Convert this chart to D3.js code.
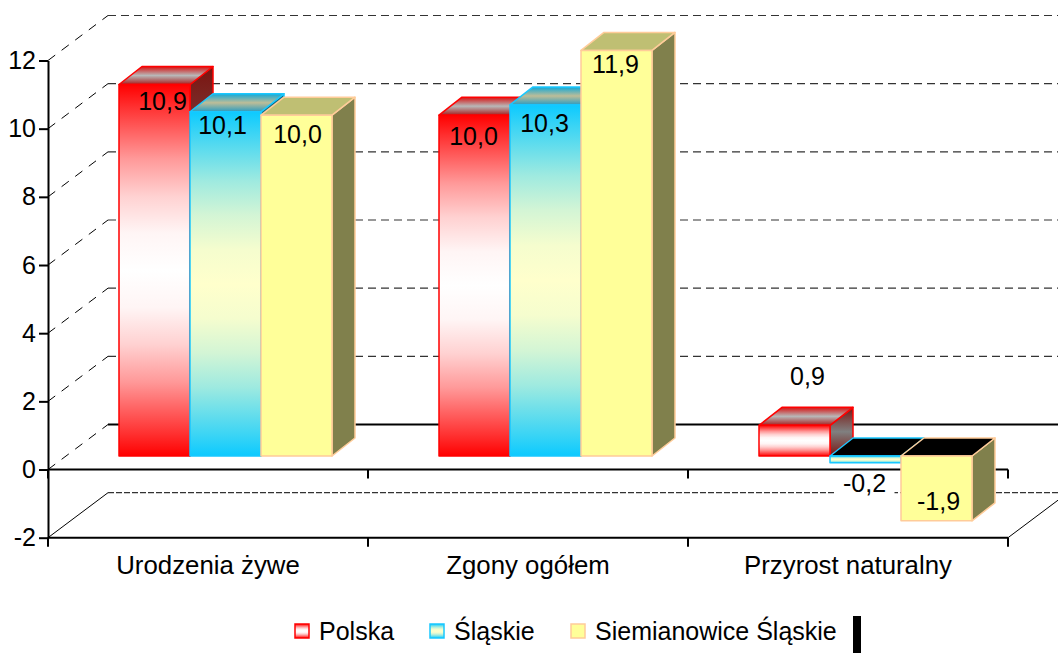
<!DOCTYPE html>
<html>
<head>
<meta charset="utf-8">
<script src="https://cdn.jsdelivr.net/npm/d3@7"></script>
<style>
  html, body { margin: 0; padding: 0; background: #fff; }
  svg { display: block; }
  text { font-family: "Liberation Sans", Arial, sans-serif; fill: #000; }
</style>
</head>
<body>
<script>
var categories = ['Urodzenia żywe', 'Zgony ogółem', 'Przyrost naturalny'];
var seriesNames = ['Polska', 'Śląskie', 'Siemianowice Śląskie'];
var polska = [10.9, 10.0, 0.9];
var slaskie = [10.1, 10.3, -0.2];
var siemianowice = [10.0, 11.9, -1.9];
var yTicks = [-2, 0, 2, 4, 6, 8, 10, 12];

var seriesValues = [polska, slaskie, siemianowice];

var width = 1058,
    height = 653,
    wallDx = 60, wallDy = -45,    // floor to back wall
    barDx = 18, barDy = -13.5,    // floor to front of the bars
    depthDx = 23, depthDy = -18;  // front of the bars to their back

var styles = [
  { stroke: '#ff0000',
    front: ['#ff0000', '#ffffff'],
    side: ['#7a1410', '#808080', '#7a1410'],
    top: ['#d81010', '#b8b8b8', '#a82020'] },
  { stroke: '#19c8ff',
    front: ['#0ccaff', '#ffffcc'],
    side: ['#0a6a88', '#808066', '#0a6a88'],
    top: ['#10a8d8', '#bdbd98', '#2a9cc0'] },
  { stroke: '#ffcc99',
    front: ['#ffff99', '#ffff99'],
    side: ['#80804c', '#80804c', '#80804c'],
    top: ['#bfbf73', '#bfbf73', '#bfbf73'] }
];

// how fast the front faces go from edge colour to middle colour: [offset, mix]
var frontRamp = [[0, 0], [0.06, 0.19], [0.2, 0.6], [0.3, 0.82], [0.4, 0.96], [0.5, 1],
                 [0.6, 0.96], [0.7, 0.82], [0.8, 0.6], [0.94, 0.19], [1, 0]];

// label baselines were placed by hand in the original chart
var labelShift = [
  [[8, 26], [-3, 22], [1, 28]],
  [[-1, 30], [-1, 27], [-1, 23]],
  [[13, -40], [-1, 29], [2, -11]]
];

var y = d3.scaleLinear().domain([-2, 12]).range([537.7, 60.5]);
var x0 = d3.scaleBand().domain(categories).range([48, 1008]);
var x1 = d3.scaleBand().domain(seriesNames).range([53, 266]);

var svg = d3.select('body').append('svg')
    .attr('width', width)
    .attr('height', height);

var defs = svg.append('defs');

function gradient(id, stops) {
  var g = defs.append('linearGradient')
      .attr('id', id)
      .attr('x1', 0).attr('y1', 0).attr('x2', 0).attr('y2', 1);
  g.selectAll('stop').data(stops).enter().append('stop')
      .attr('offset', function(d) { return d[0]; })
      .attr('stop-color', function(d) { return d[1]; });
}

function evenStops(colors) {
  return colors.map(function(c, i) { return [i / (colors.length - 1), c]; });
}

styles.forEach(function(s, i) {
  var mix = d3.interpolateRgb(s.front[0], s.front[1]);
  gradient('front' + i, frontRamp.map(function(r) { return [r[0], mix(r[1])]; }));
  gradient('side' + i, evenStops(s.side));
  gradient('top' + i, evenStops(s.top));
});

// walls
var grid = svg.append('g').attr('fill', 'none');

grid.selectAll('.wall').data(yTicks).enter().append('line')
    .attr('x1', 48 + wallDx)
    .attr('x2', width)
    .attr('y1', function(d) { return y(d) + wallDy; })
    .attr('y2', function(d) { return y(d) + wallDy; })
    .attr('stroke', function(d) { return d === 0 ? '#000' : '#333'; })
    .attr('stroke-width', function(d) { return d === 0 ? 2 : 1.2; })
    .attr('stroke-dasharray', function(d) { return d === 0 ? null : (d === -2 ? '6,2' : '8,5'); });

grid.selectAll('.slant').data(yTicks).enter().append('line')
    .attr('x1', 48)
    .attr('x2', 48 + wallDx)
    .attr('y1', function(d) { return y(d); })
    .attr('y2', function(d) { return y(d) + wallDy; })
    .attr('stroke', '#000')
    .attr('stroke-width', 1)
    .attr('stroke-dasharray', function(d) { return d === -2 ? null : '9,8'; });

grid.append('line')
    .attr('x1', 1008)
    .attr('x2', 1008 + wallDx)
    .attr('y1', y(-2))
    .attr('y2', y(-2) + wallDy)
    .attr('stroke', '#000');

// front axis lines
var bottomTicks = categories.map(function(d) { return x0(d); }).concat([x0.range()[1]]);
var axes = svg.append('g');

[0, -2].forEach(function(v) {
  axes.append('line')
      .attr('x1', 48).attr('x2', 1008)
      .attr('y1', y(v)).attr('y2', y(v))
      .attr('stroke', '#000').attr('stroke-width', 2);
  axes.selectAll('.tick' + (-v)).data(bottomTicks).enter().append('line')
      .attr('x1', function(d) { return d; })
      .attr('x2', function(d) { return d; })
      .attr('y1', y(v))
      .attr('y2', y(v) + 9)
      .attr('stroke', '#000').attr('stroke-width', 2);
});

var yAxis = axes.append('g')
    .attr('transform', 'translate(48,0)')
    .call(d3.axisLeft(y)
      .tickValues(yTicks)
      .tickSize(9)
      .tickSizeOuter(0)
      .tickPadding(3)
      .tickFormat(function(d) { return String(d); }));
yAxis.select('.domain').attr('stroke', '#000').attr('stroke-width', 2);
yAxis.selectAll('.tick line').attr('stroke', '#000').attr('stroke-width', 2);
yAxis.selectAll('.tick text')
    .attr('font-size', 25)
    .attr('dy', '0.32em');
yAxis.attr('font-family', null).attr('font-size', null);

// category labels
svg.selectAll('.cat').data(categories).enter().append('text')
    .attr('class', 'cat')
    .attr('x', function(d) { return x0(d) + x0.bandwidth() / 2; })
    .attr('y', 574)
    .attr('text-anchor', 'middle')
    .attr('font-size', 25.8)
    .text(function(d) { return d; });

// bars
var barLayer = svg.append('g');
var labelLayer = svg.append('g');
var zero = y(0) + barDy;

categories.forEach(function(cat, c) {
  seriesNames.forEach(function(name, s) {
    var v = seriesValues[s][c];
    var left = x0(cat) + x1(name) + barDx,
        right = left + x1.bandwidth(),
        valueY = y(v) + barDy,
        top = Math.min(zero, valueY),
        bottom = Math.max(zero, valueY),
        st = styles[s],
        g = barLayer.append('g')
            .attr('stroke', st.stroke)
            .attr('stroke-width', 1.5)
            .attr('stroke-linejoin', 'round');

    g.append('path')
        .attr('d', 'M' + right + ' ' + top +
                   'L' + (right + depthDx) + ' ' + (top + depthDy) +
                   'L' + (right + depthDx) + ' ' + (bottom + depthDy) +
                   'L' + right + ' ' + bottom + 'Z')
        .attr('fill', 'url(#side' + s + ')');

    g.append('path')
        .attr('d', 'M' + left + ' ' + top +
                   'L' + (left + depthDx) + ' ' + (top + depthDy) +
                   'L' + (right + depthDx) + ' ' + (top + depthDy) +
                   'L' + right + ' ' + top + 'Z')
        .attr('fill', v < 0 ? '#000' : 'url(#top' + s + ')');

    g.append('rect')
        .attr('x', left)
        .attr('y', top)
        .attr('width', x1.bandwidth())
        .attr('height', bottom - top)
        .attr('fill', 'url(#front' + s + ')');

    var shift = labelShift[c][s],
        lx = (left + right) / 2 + shift[0],
        ly = valueY + shift[1],
        label = d3.format('.1f')(v).replace('.', ',').replace('−', '-');

    if (v === -0.2) {
      labelLayer.append('rect')
          .attr('x', lx - 30).attr('y', ly - 20)
          .attr('width', 60).attr('height', 27)
          .attr('fill', '#fff');
    }
    labelLayer.append('text')
        .attr('x', lx)
        .attr('y', ly)
        .attr('text-anchor', 'middle')
        .attr('font-size', 25)
        .text(label);
  });
});

// legend
var legendX = d3.scaleOrdinal().domain(seriesNames).range([295, 430, 571]);
var legend = svg.selectAll('.legend').data(seriesNames).enter().append('g')
    .attr('class', 'legend')
    .attr('transform', function(d) { return 'translate(' + legendX(d) + ',624)'; });

legend.append('rect')
    .attr('width', 14).attr('height', 14)
    .attr('stroke-width', 1.5)
    .attr('stroke', function(d, i) { return styles[i].stroke; })
    .attr('fill', function(d, i) { return 'url(#front' + i + ')'; });

legend.append('text')
    .attr('x', 24)
    .attr('y', 16)
    .attr('font-size', 25)
    .text(function(d) { return d; });

svg.append('rect')
    .attr('x', 853).attr('y', 616)
    .attr('width', 8).attr('height', 37)
    .attr('fill', '#000');
</script>
</body>
</html>
